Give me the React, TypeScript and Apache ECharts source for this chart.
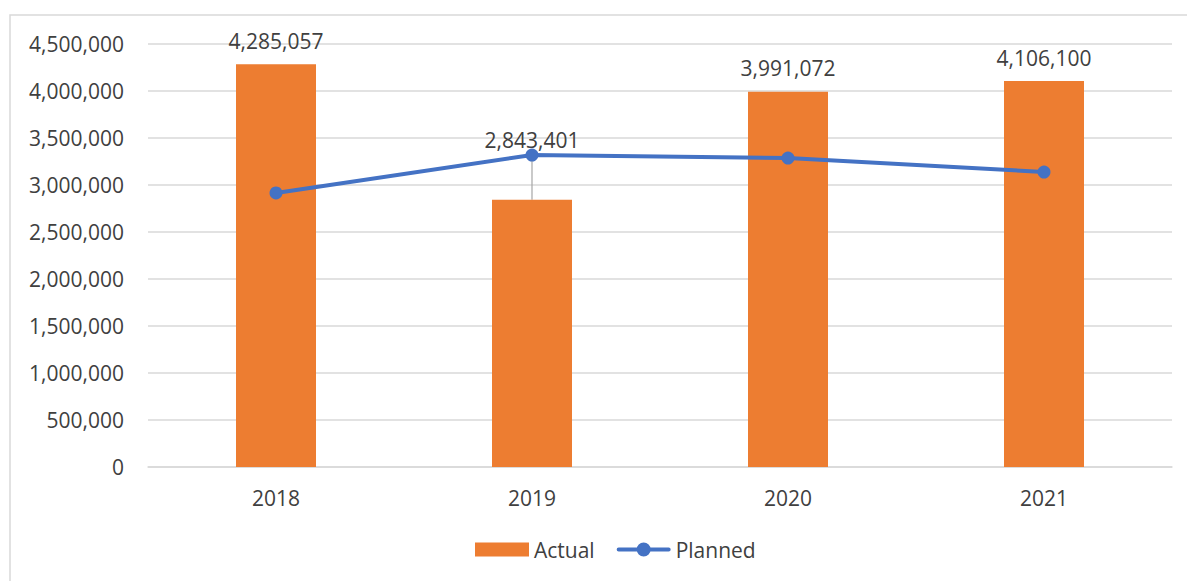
import React, { useEffect, useRef } from "react";
import * as echarts from "echarts";

const categories = ["2018", "2019", "2020", "2021"];
const actual = [4285057, 2843401, 3991072, 4106100];
const planned = [2915000, 3319000, 3287000, 3138000];
const yMin = 0;
const yMax = 4500000;
const yInterval = 500000;

const fmt = (v: number) => Number(v).toLocaleString("en-US");
const FONT = "'Open Sans', sans-serif";
const TXT = "#404040";
const FS = 21;
const LINE_ICON =
  "path://M2,5 L52,5 A2,2 0 0,1 52,9 L2,9 A2,2 0 0,1 2,5 Z M20,7 A7,7 0 1,1 34,7 A7,7 0 1,1 20,7 Z M0,7 L0,7 Z M54,7 L54,7 Z";

export default function App() {
  const ref = useRef<HTMLDivElement>(null);
  useEffect(() => {
    if (!ref.current) return;
    const chart = echarts.init(ref.current, undefined, { renderer: "svg" });
    chart.setOption({
      animation: false,
      backgroundColor: "#ffffff",
      textStyle: { fontFamily: FONT },
      graphic: [
        {
          type: "rect",
          shape: { x: 10, y: 15, width: 1200, height: 600 },
          style: { fill: "none", stroke: "#d9d9d9", lineWidth: 1.5 },
          silent: true,
        },
      ],
      grid: { left: 148, right: 15, top: 44, bottom: 114 },
      legend: {
        bottom: 16,
        left: 470,
        itemWidth: 54,
        itemHeight: 14,
        itemGap: 22,
        textStyle: { color: TXT, fontSize: FS, fontFamily: FONT },
        data: [
          { name: "Actual", icon: "rect" },
          { name: "Planned", icon: LINE_ICON, itemStyle: { color: "#4472c4" } },
        ],
      },
      xAxis: {
        type: "category",
        data: categories,
        axisLine: { show: true, lineStyle: { color: "#d9d9d9", width: 1.5 } },
        axisTick: { show: false },
        axisLabel: { color: TXT, fontSize: FS, margin: 20, fontFamily: FONT },
      },
      yAxis: {
        type: "value",
        min: yMin,
        max: yMax,
        interval: yInterval,
        axisLine: { show: false },
        axisTick: { show: false },
        splitLine: { lineStyle: { color: "#d9d9d9", width: 1.5 } },
        axisLabel: {
          color: TXT,
          fontSize: FS,
          margin: 24,
          fontFamily: FONT,
          formatter: (v: number) => fmt(v),
        },
      },
      series: [
        {
          name: "Actual",
          type: "bar",
          barWidth: 80,
          itemStyle: { color: "#ed7d31" },
          data: actual.map((v, i) =>
            i === 1
              ? { value: v, labelLine: { show: true, lineStyle: { color: "#a6a6a6", width: 1.2 } } }
              : { value: v }
          ),
          label: {
            show: true,
            position: "top",
            distance: 13,
            color: TXT,
            fontSize: FS,
            fontFamily: FONT,
            formatter: (p: any) => fmt(p.value),
          },
          labelLayout: (p: any) => (p.dataIndex === 1 ? { dy: -36 } : {}),
          z: 2,
        },
        {
          name: "Planned",
          type: "line",
          data: planned,
          symbol: "circle",
          symbolSize: 13,
          lineStyle: { color: "#4472c4", width: 4 },
          itemStyle: { color: "#4472c4" },
          z: 3,
        },
      ],
    });
    return () => chart.dispose();
  }, []);
  return (
    <div
      ref={ref}
      style={{ position: "fixed", left: 0, top: 0, width: 1187, height: 581 }}
    />
  );
}
